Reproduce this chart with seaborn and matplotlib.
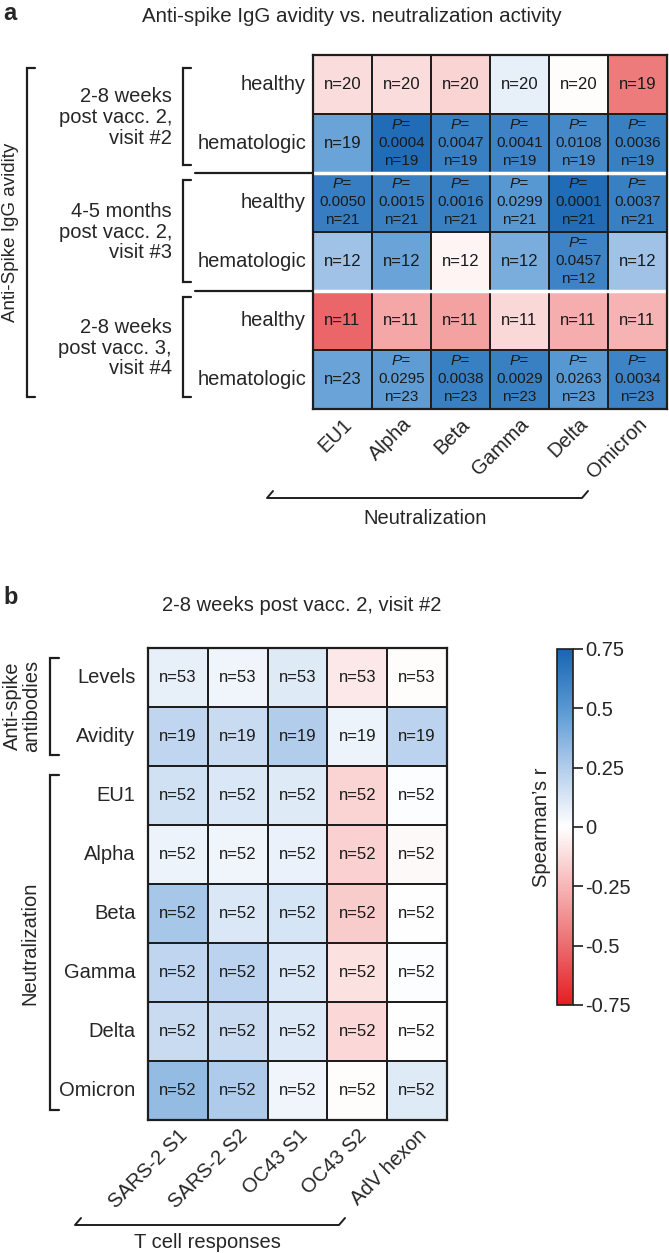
import matplotlib
matplotlib.use("Agg")
import matplotlib.pyplot as plt
import numpy as np
import pandas as pd
import seaborn as sns
from matplotlib.colors import LinearSegmentedColormap

# ---- panel a data: avidity vs neutralization ----
variants = ["EU1", "Alpha", "Beta", "Gamma", "Delta", "Omicron"]
cohorts = ["healthy", "hematologic", "healthy", "hematologic", "healthy", "hematologic"]
timepoints = ["2-8 weeks\npost vacc. 2,\nvisit #2",
              "4-5 months\npost vacc. 2,\nvisit #3",
              "2-8 weeks\npost vacc. 3,\nvisit #4"]
avidity_r = [
    [-0.12, -0.12, -0.15, 0.08, -0.01, -0.45],
    [0.45, 0.72, 0.62, 0.60, 0.57, 0.62],
    [0.63, 0.62, 0.62, 0.50, 0.72, 0.62],
    [0.30, 0.45, -0.04, 0.40, 0.60, 0.30],
    [-0.52, -0.30, -0.32, -0.13, -0.28, -0.26],
    [0.45, 0.48, 0.62, 0.62, 0.50, 0.60],
]
avidity_n = [
    [20, 20, 20, 20, 20, 19],
    [19, 19, 19, 19, 19, 19],
    [21, 21, 21, 21, 21, 21],
    [12, 12, 12, 12, 12, 12],
    [11, 11, 11, 11, 11, 11],
    [23, 23, 23, 23, 23, 23],
]
avidity_p = [
    [None, None, None, None, None, None],
    [None, "0.0004", "0.0047", "0.0041", "0.0108", "0.0036"],
    ["0.0050", "0.0015", "0.0016", "0.0299", "0.0001", "0.0037"],
    [None, None, None, None, "0.0457", None],
    [None, None, None, None, None, None],
    [None, "0.0295", "0.0038", "0.0029", "0.0263", "0.0034"],
]

# ---- panel b data: T cell responses vs antibodies ----
tcell_targets = ["SARS-2 S1", "SARS-2 S2", "OC43 S1", "OC43 S2", "AdV hexon"]
antibody_rows = ["Levels", "Avidity", "EU1", "Alpha", "Beta", "Gamma", "Delta", "Omicron"]
tcell_r = [
    [0.08, 0.05, 0.10, -0.08, -0.01],
    [0.20, 0.18, 0.25, 0.06, 0.22],
    [0.15, 0.12, 0.10, -0.15, 0.01],
    [0.06, 0.05, 0.07, -0.16, -0.02],
    [0.28, 0.12, 0.13, -0.17, 0.00],
    [0.20, 0.22, 0.12, -0.10, 0.01],
    [0.18, 0.18, 0.11, -0.14, 0.00],
    [0.33, 0.26, 0.05, -0.01, 0.10],
]
tcell_n = [[53] * 5, [19] * 5] + [[52] * 5] * 6
cbar_ticks = [0.75, 0.5, 0.25, 0, -0.25, -0.5, -0.75]
cbar_labels = ["0.75", "0.5", "0.25", "0", "-0.25", "-0.5", "-0.75"]

sns.set_style("white")
plt.rcParams["font.family"] = ["Liberation Sans", "DejaVu Sans"]

cmap = LinearSegmentedColormap.from_list("rwb", [
    (0.0, (228/255, 30/255, 35/255)),
    (1/6, (236/255, 108/255, 110/255)),
    (2/6, (247/255, 182/255, 182/255)),
    (0.5, (1, 1, 1)),
    (4/6, (178/255, 205/255, 236/255)),
    (5/6, (88/255, 152/255, 210/255)),
    (1.0, (24/255, 102/255, 178/255)),
])

W, H = 669, 1253
def rect(x0, y0, x1, y1):
    return [x0 / W, 1 - y1 / H, (x1 - x0) / W, (y1 - y0) / H]

fig = plt.figure(figsize=(W / 100, H / 100), dpi=100)
ov = fig.add_axes([0, 0, 1, 1])
ov.set_xlim(0, W)
ov.set_ylim(H, 0)
ov.axis("off")
lab_fs = 14.5
cell_fs = 12
edge = "#1e1e1e"
ink = "#1a1a1a"

# ================= panel a =================
ax_a = fig.add_axes(rect(313, 55, 667, 409))
df_a = pd.DataFrame(avidity_r, index=cohorts, columns=variants)
sns.heatmap(df_a, ax=ax_a, cmap=cmap, vmin=-0.75, vmax=0.75, cbar=False,
            linewidths=1.4, linecolor=edge)
for i in range(len(cohorts)):
    for j in range(len(variants)):
        n = avidity_n[i][j]
        p = avidity_p[i][j]
        if p is None:
            ax_a.text(j + 0.5, i + 0.5, f"n={n}", ha="center", va="center",
                      fontsize=cell_fs, color=ink)
        else:
            ax_a.text(j + 0.5, i + 0.19, "P=", ha="center", va="center", style="italic",
                      fontsize=cell_fs - 1, color=ink)
            ax_a.text(j + 0.5, i + 0.49, p, ha="center", va="center",
                      fontsize=cell_fs - 1, color=ink)
            ax_a.text(j + 0.5, i + 0.80, f"n={n}", ha="center", va="center",
                      fontsize=cell_fs - 1, color=ink)
for k in (2, 4):
    ax_a.axhline(k, color="white", lw=2.5)
ax_a.set_yticklabels(cohorts, rotation=0, fontsize=lab_fs)
ax_a.set_xticklabels(variants, rotation=45, ha="right", va="top",
                     rotation_mode="anchor", fontsize=lab_fs)
ax_a.tick_params(length=0, pad=5)
ax_a.tick_params(axis="x", pad=4)
ax_a.set_xlabel("")
ax_a.set_ylabel("")
for s in ax_a.spines.values():
    s.set_visible(True)
    s.set_color(edge)
    s.set_linewidth(1.6)

fig.text(3 / W, 1 - 13 / H, "a", fontsize=17, fontweight="bold", va="center")
fig.text(352 / W, 1 - 17 / H, "Anti-spike IgG avidity vs. neutralization activity",
         fontsize=14.8, ha="center", va="center")

# group brackets and separators
grp_spans = [(68, 165), (180, 282), (297, 397)]
for (y0, y1), tp in zip(grp_spans, timepoints):
    ov.plot([191, 183, 183, 191], [y0, y0, y1, y1], color=edge, lw=1.6,
            solid_joinstyle="miter")
    ov.text(172, (y0 + y1) / 2 + 1, tp, ha="right", va="center", fontsize=lab_fs,
            linespacing=1.12)
for y in (173, 291):
    ov.plot([195, 313], [y, y], color=edge, lw=1.6)
ov.plot([35, 27, 27, 35], [68, 68, 397, 397], color=edge, lw=1.6, solid_joinstyle="miter")
ov.text(11, 232, "Anti-Spike IgG avidity", rotation=90, ha="center", va="center",
        fontsize=13.5)

# bottom bracket panel a
ov.plot([273, 267, 582, 588], [491, 498, 498, 491], color=edge, lw=1.4)
ov.text(425, 518, "Neutralization", ha="center", va="center", fontsize=lab_fs)

# ================= panel b =================
ax_b = fig.add_axes(rect(148, 648, 447, 1120))
cax = fig.add_axes(rect(557, 649, 573, 1005))
df_b = pd.DataFrame(tcell_r, index=antibody_rows, columns=tcell_targets)
sns.heatmap(df_b, ax=ax_b, cmap=cmap, vmin=-0.75, vmax=0.75, cbar=True, cbar_ax=cax,
            cbar_kws={"ticks": cbar_ticks}, linewidths=1.4, linecolor=edge)
for i in range(len(antibody_rows)):
    for j in range(len(tcell_targets)):
        ax_b.text(j + 0.5, i + 0.5, f"n={tcell_n[i][j]}", ha="center", va="center",
                  fontsize=cell_fs, color=ink)
ax_b.set_yticklabels(antibody_rows, rotation=0, fontsize=lab_fs)
ax_b.set_xticklabels(tcell_targets, rotation=45, ha="right", va="top",
                     rotation_mode="anchor", fontsize=lab_fs)
ax_b.tick_params(length=0, pad=9)
ax_b.tick_params(axis="x", pad=4)
ax_b.set_xlabel("")
ax_b.set_ylabel("")
for s in ax_b.spines.values():
    s.set_visible(True)
    s.set_color(edge)
    s.set_linewidth(1.6)

cb = ax_b.collections[0].colorbar
cb.ax.set_yticklabels(cbar_labels)
cb.ax.tick_params(length=7, width=1.2, labelsize=lab_fs, pad=2, color=edge)
cb.outline.set_edgecolor(edge)
cb.outline.set_linewidth(1.2)
cb.ax.set_ylabel("Spearman\u2019s r", fontsize=lab_fs, labelpad=4)
cb.ax.yaxis.set_label_position("left")

fig.text(3 / W, 1 - 598 / H, "b", fontsize=17, fontweight="bold", va="center")
fig.text(302 / W, 1 - 605 / H, "2-8 weeks post vacc. 2, visit #2",
         fontsize=lab_fs, ha="center", va="center")

ov.plot([59, 50, 50, 59], [658, 658, 755, 755], color=edge, lw=1.6, solid_joinstyle="miter")
ov.text(22, 706, "Anti-spike\nantibodies", rotation=90, ha="center", va="center",
        fontsize=lab_fs, linespacing=1.0)
ov.plot([59, 50, 50, 59], [775, 775, 1110, 1110], color=edge, lw=1.6, solid_joinstyle="miter")
ov.text(30, 943, "Neutralization", rotation=90, ha="center", va="center", fontsize=lab_fs)

ov.plot([81, 75, 339, 345], [1218, 1225, 1225, 1218], color=edge, lw=1.4)
ov.text(207, 1243, "T cell responses", ha="center", va="center", fontsize=lab_fs)

fig.savefig("out.png", dpi=100)
